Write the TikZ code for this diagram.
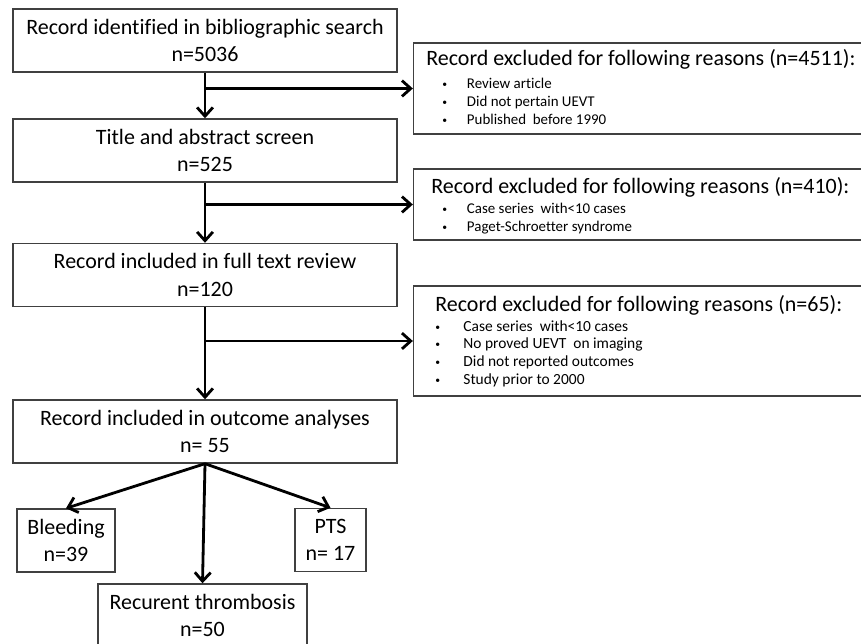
\documentclass[tikz,border=0pt]{standalone}
\usepackage{fontspec}
\setmainfont{Carlito}[Ligatures=NoCommon]
\usetikzlibrary{arrows.meta}
\newcommand{\dotitem}[1]{\makebox[#1][l]{\raisebox{0.12em}{\fontsize{5.5}{6}\selectfont •}}}

\begin{document}
\begin{tikzpicture}[x=0.02cm,y=-0.02cm,
  box/.style={draw=black!75,line width=0.8pt,minimum height=1.26cm,inner sep=0pt,align=center,font=\fontsize{12.5}{15.6}\selectfont},
  exbox/.style={draw=black!75,line width=0.8pt,minimum width=9.3cm,inner sep=0pt},
  head/.style={anchor=base west,inner sep=0pt,font=\fontsize{12.5}{14}\selectfont},
  item/.style={anchor=base west,inner sep=0pt,font=\fontsize{8.5}{9}\selectfont},
  arr/.style={line width=1.6pt,-{Straight Barb[length=5pt,width=9pt]}}]
\clip (0,0) rectangle (861,644);

% main flow
\node[box,minimum width=7.68cm] at (205,40.5) (search) {Record identified in bibliographic search\\n=5036};
\node[box,minimum width=7.68cm] at (205,150.5) (screen) {Title and abstract screen\\n=525};
\node[box,minimum width=7.68cm] at (205,275) (fulltext) {Record included in full text review\\n=120};
\node[box,minimum width=7.68cm] at (205,431.5) (analysis) {Record included in outcome analyses\\n= 55};

% outcomes
\node[box,minimum width=1.96cm] at (66,540.5) (bleeding) {Bleeding\\n=39};
\node[box,minimum width=1.42cm] at (330.5,540) (pts) {PTS\\n= 17};
\node[box,minimum width=4.18cm] at (202.5,615.5) (recur) {Recurent thrombosis\\n=50};

% excluded records
\node[exbox,minimum height=1.82cm] at (646,88.5) (excl1) {};
\node[head] at (426,66) (excl1t) {Record excluded for following reasons (n=4511):};
\node[item] at (442,89) (excl1a) {\dotitem{14pt}Review article};
\node[item] at (442,107) (excl1b) {\dotitem{14pt}Did not pertain UEVT};
\node[item] at (442,125) (excl1c) {\dotitem{14pt}Published\ \ before 1990};

\node[exbox,minimum height=1.42cm] at (646,204.5) (excl2) {};
\node[head] at (431,194) (excl2t) {Record excluded for following reasons (n=410):};
\node[item] at (442,214) (excl2a) {\dotitem{14pt}Case series\ \ with<10 cases};
\node[item] at (442,232) (excl2b) {\dotitem{14pt}Paget-Schroetter syndrome};

\node[exbox,minimum height=2.2cm] at (646,341) (excl3) {};
\node[head] at (435,312) (excl3t) {Record excluded for following reasons (n=65):};
\node[item,font=\fontsize{8.8}{9}\selectfont] at (435,332) (excl3a) {\dotitem{16pt}Case series\ \ with<10 cases};
\node[item,font=\fontsize{8.8}{9}\selectfont] at (435,349) (excl3b) {\dotitem{16pt}No proved UEVT\ \ on imaging};
\node[item,font=\fontsize{8.8}{9}\selectfont] at (435,367) (excl3c) {\dotitem{16pt}Did not reported outcomes};
\node[item,font=\fontsize{8.8}{9}\selectfont] at (435,385) (excl3d) {\dotitem{16pt}Study prior to 2000};

% arrows
\draw[arr] (search) -- (screen);
\draw[arr] (screen) -- (fulltext);
\draw[arr] (fulltext) -- (analysis);
\draw[arr] (search.south |- excl1.west) -- (excl1.west);
\draw[arr] (screen.south |- excl2.west) -- (excl2.west);
\draw[arr] (fulltext.south |- excl3.west) -- (excl3.west);
\draw[arr] (analysis.south) -- (bleeding.north);
\draw[arr] (analysis.south) -- (pts.north);
\draw[arr] (analysis.south) -- (recur.north);
\end{tikzpicture}
\end{document}
